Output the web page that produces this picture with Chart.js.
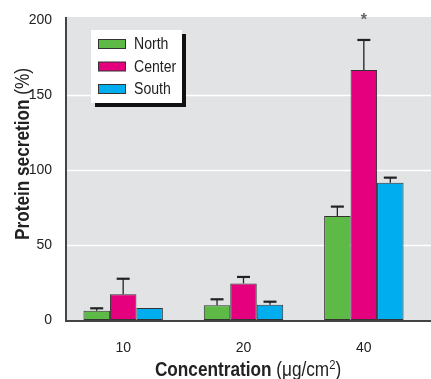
<!DOCTYPE html>
<html>
<head>
<meta charset="utf-8">
<script src="https://cdn.jsdelivr.net/npm/chart.js@4"></script>
<style>
  html, body { margin: 0; padding: 0; background: #fff; }
  #wrap { width: 431px; height: 379px; }
</style>
</head>
<body>
<div id="wrap"><canvas id="myChart" width="431" height="379"></canvas></div>
<script>
// data
const concentrations = ['10', '20', '40'];
const seriesNames = ['North', 'Center', 'South'];
const northValues = [6.2, 9.8, 69.3];
const centerValues = [17.1, 24.4, 166.7];
const southValues = [8.0, 10.2, 91.5];
const northErrors = [1.6, 4.0, 6.3];
const centerErrors = [10.4, 4.3, 20.0];
const southErrors = [0, 2.0, 3.4];
const yTicks = [0, 50, 100, 150, 200];
const starredBar = { series: 1, index: 2 }; // the * over Center at 40

const FONT = "'Liberation Sans', Arial, sans-serif";
const colors = ['#5dba47', '#e5007d', '#00aeef'];

const data = {
  labels: concentrations,
  datasets: [
    { label: seriesNames[0], data: northValues, errors: northErrors, backgroundColor: colors[0] },
    { label: seriesNames[1], data: centerValues, errors: centerErrors, backgroundColor: colors[1] },
    { label: seriesNames[2], data: southValues, errors: southErrors, backgroundColor: colors[2] }
  ].map(d => Object.assign(d, { borderColor: '#333', borderWidth: 1, borderSkipped: false }))
};

// draws squeezed text (looks like a condensed face), returns its width
function narrowText(ctx, str, x, y, font, sx) {
  ctx.font = font;
  const w = ctx.measureText(str).width * sx;
  ctx.save();
  ctx.translate(x, y);
  ctx.scale(sx, 1);
  ctx.fillText(str, 0, 0);
  ctx.restore();
  return w;
}
function narrowWidth(ctx, str, font, sx) {
  ctx.font = font;
  return ctx.measureText(str).width * sx;
}

// gray panel, white grid lines
const panelPlugin = {
  id: 'panel',
  beforeDatasetsDraw(chart) {
    const ctx = chart.ctx;
    const y = chart.scales.y;
    const area = chart.chartArea;
    ctx.save();
    ctx.fillStyle = '#e2e3e5';
    ctx.fillRect(66, area.top - 3, chart.width - 66, area.bottom - area.top + 3);
    ctx.strokeStyle = '#ffffff';
    ctx.lineWidth = 1.5;
    y.ticks.forEach(t => {
      if (t.value <= 0 || t.value >= 200) return;
      const py = Math.round(y.getPixelForValue(t.value)) + 0.5;
      ctx.beginPath();
      ctx.moveTo(66, py);
      ctx.lineTo(chart.width, py);
      ctx.stroke();
    });
    ctx.restore();
  }
};

// error bars (upper only), asterisk, axes, titles, legend
const extrasPlugin = {
  id: 'extras',
  afterDatasetsDraw(chart) {
    const ctx = chart.ctx;
    const y = chart.scales.y;
    ctx.save();
    ctx.strokeStyle = '#222';
    chart.data.datasets.forEach((ds, di) => {
      const meta = chart.getDatasetMeta(di);
      meta.data.forEach((bar, i) => {
        const err = ds.errors[i];
        if (!err) return;
        const top = y.getPixelForValue(ds.data[i] + err);
        ctx.lineWidth = 1.3;
        ctx.beginPath();
        ctx.moveTo(bar.x, bar.y);
        ctx.lineTo(bar.x, top);
        ctx.stroke();
        ctx.lineWidth = 2.2;
        ctx.beginPath();
        ctx.moveTo(bar.x - 6.5, top);
        ctx.lineTo(bar.x + 6.5, top);
        ctx.stroke();
      });
    });
    // asterisk
    const sb = chart.getDatasetMeta(starredBar.series).data[starredBar.index];
    ctx.fillStyle = '#666';
    ctx.font = 'bold 16px ' + FONT;
    ctx.textAlign = 'center';
    ctx.textBaseline = 'middle';
    ctx.fillText('*', sb.x, 21);
    ctx.restore();
  },
  afterDraw(chart) {
    const ctx = chart.ctx;
    const area = chart.chartArea;
    ctx.save();
    // axes
    ctx.strokeStyle = '#444';
    ctx.lineWidth = 2;
    ctx.beginPath();
    ctx.moveTo(66, area.top - 3);
    ctx.lineTo(66, area.bottom + 1);
    ctx.lineTo(chart.width, area.bottom + 1);
    ctx.stroke();

    // x title: bold part + regular part with superscript
    ctx.fillStyle = '#222';
    ctx.textBaseline = 'alphabetic';
    ctx.textAlign = 'left';
    const sx = 0.86;
    const boldF = 'bold 20px ' + FONT, regF = '20px ' + FONT, supF = '13px ' + FONT;
    const w1 = narrowWidth(ctx, 'Concentration ', boldF, sx);
    const w2 = narrowWidth(ctx, '(\u03bcg/cm', regF, sx);
    const w3 = narrowWidth(ctx, '2', supF, sx);
    const w4 = narrowWidth(ctx, ')', regF, sx);
    let x = 248 - (w1 + w2 + w3 + w4) / 2;
    const by = 376;
    x += narrowText(ctx, 'Concentration ', x, by, boldF, sx);
    x += narrowText(ctx, '(\u03bcg/cm', x, by, regF, sx);
    x += narrowText(ctx, '2', x, by - 7, supF, sx);
    narrowText(ctx, ')', x, by, regF, sx);

    // y title, rotated
    ctx.save();
    ctx.translate(29, 154);
    ctx.rotate(-Math.PI / 2);
    const v1 = narrowWidth(ctx, 'Protein secretion ', boldF, sx);
    const v2 = narrowWidth(ctx, '(%)', regF, sx);
    let vx = -(v1 + v2) / 2;
    vx += narrowText(ctx, 'Protein secretion ', vx, 0, boldF, sx);
    narrowText(ctx, '(%)', vx, 0, regF, sx);
    ctx.restore();

    // legend box with shadow
    const lx = 91, ly = 30, lw = 91, lh = 73;
    ctx.fillStyle = '#111';
    ctx.fillRect(lx + 4, ly + 4, lw, lh);
    ctx.fillStyle = '#ffffff';
    ctx.fillRect(lx, ly, lw, lh);
    ctx.textBaseline = 'middle';
    chart.data.datasets.forEach((ds, i) => {
      const cy = 44 + i * 22.5;
      ctx.fillStyle = ds.backgroundColor;
      ctx.fillRect(98, cy - 4.5, 28, 9);
      ctx.strokeStyle = '#333';
      ctx.lineWidth = 1;
      ctx.strokeRect(98.5, cy - 4.5, 27, 9);
      ctx.fillStyle = '#222';
      narrowText(ctx, ds.label, 134, cy + 1, '16px ' + FONT, 0.88);
    });
    ctx.restore();
  }
};

const config = {
  type: 'bar',
  data,
  options: {
    responsive: false,
    animation: false,
    layout: { padding: { left: 0, right: 7, top: 20, bottom: 0 } },
    datasets: { bar: { barPercentage: 1, categoryPercentage: 0.66 } },
    plugins: { legend: { display: false }, tooltip: { enabled: false } },
    scales: {
      x: {
        grid: { display: false },
        border: { display: false },
        ticks: { font: { family: FONT, size: 14 }, color: '#222', padding: 12 },
        afterFit(scale) { scale.height = 59; }
      },
      y: {
        min: 0,
        max: 200,
        afterBuildTicks(scale) { scale.ticks = yTicks.map(v => ({ value: v })); },
        grid: { display: false },
        border: { display: false },
        ticks: { font: { family: FONT, size: 14 }, color: '#222', padding: 3 },
        afterFit(scale) { scale.width = 63; }
      }
    }
  },
  plugins: [panelPlugin, extrasPlugin]
};

const myChart = new Chart(document.getElementById('myChart'), config);
</script>
</body>
</html>
